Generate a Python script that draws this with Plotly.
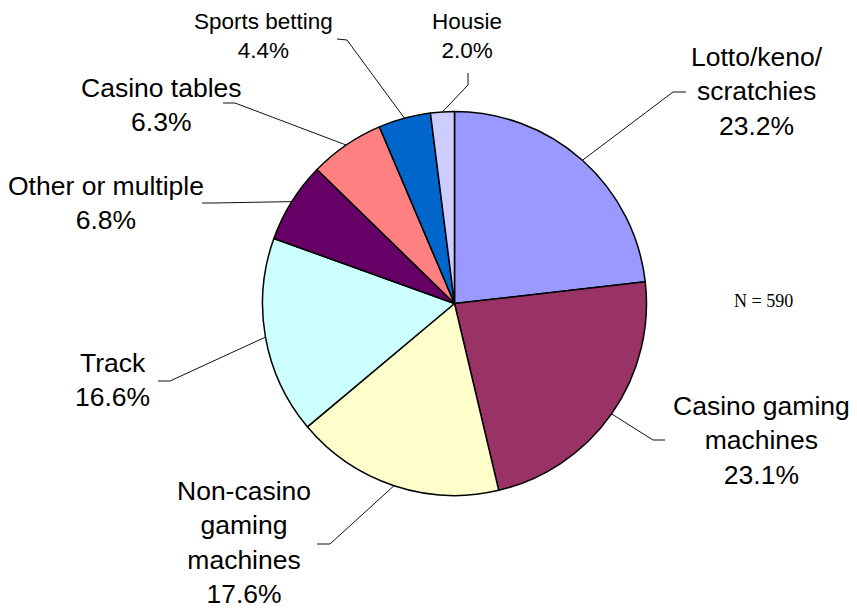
import math
import plotly.graph_objects as go

# Share of participants by main form of gambling
categories = [
    "Lotto/keno/<br>scratchies",
    "Casino gaming<br>machines",
    "Non-casino<br>gaming<br>machines",
    "Track",
    "Other or multiple",
    "Casino tables",
    "Sports betting",
    "Housie",
]
shares = [23.2, 23.1, 17.6, 16.6, 6.8, 6.3, 4.4, 2.0]
sample_size = 590

colors = ["#9999FF", "#993366", "#FFFFCC", "#CCFFFF",
          "#660066", "#FF8080", "#0066CC", "#CCCCFF"]

W, H = 857, 609
CX, CY, R = 454.5, 303.5, 192.0

# Label placement (pixel centre of each text block, font size)
label_pos = [
    (757, 91, 26.5), (761, 440, 26.5), (244, 542, 26.5), (112, 380, 26.5),
    (106, 203, 26.5), (161, 105, 26.5), (263, 36, 22.5), (467, 36, 22.5),
]
# Leader line: elbow point and end point next to the label
leader_pts = [
    ((673, 92), (686, 92)),
    ((653, 440), (665, 440)),
    ((330, 544), (317, 544)),
    ((170, 381), (158, 381)),
    ((214, 203), (202, 203)),
    ((235, 103), (223, 103)),
    ((347, 40), (337, 39)),
    ((468, 85), (468, 73)),
]

fig = go.Figure()

fig.add_trace(go.Pie(
    values=shares,
    labels=[c.replace("<br>", " ") for c in categories],
    sort=False,
    direction="clockwise",
    rotation=0,
    textinfo="none",
    hoverinfo="skip",
    marker=dict(colors=colors, line=dict(color="#000000", width=1.5)),
    domain=dict(x=[(CX - R) / W, (CX + R) / W],
                y=[(H - CY - R) / H, (H - CY + R) / H]),
    showlegend=False,
))

total = sum(shares)
cum = 0.0
shapes = []
annotations = []
for cat, v, (lx, ly, fs), (elbow, end) in zip(categories, shares, label_pos, leader_pts):
    theta = math.radians((cum + v / 2) / total * 360.0)
    cum += v
    ex = CX + R * math.sin(theta)
    ey = CY - R * math.cos(theta)
    shapes.append(dict(
        type="path", xref="x", yref="y",
        path=f"M{ex:.1f},{ey:.1f} L{elbow[0]},{elbow[1]} L{end[0]},{end[1]}",
        line=dict(color="#111111", width=1),
    ))
    annotations.append(dict(
        x=lx, y=ly, xref="x", yref="y",
        text=f"{cat}<br>{v:.1f}%",
        showarrow=False, align="center",
        xanchor="center", yanchor="middle",
        font=dict(family="Liberation Sans, Arial", size=fs, color="#000000"),
    ))

annotations.append(dict(
    x=763, y=301, xref="x", yref="y",
    text=f"N = {sample_size}", showarrow=False,
    xanchor="center", yanchor="middle",
    font=dict(family="Liberation Serif, Times New Roman", size=18, color="#000000"),
))

fig.update_layout(
    width=W, height=H,
    margin=dict(l=0, r=0, t=0, b=0),
    paper_bgcolor="#FFFFFF",
    plot_bgcolor="rgba(0,0,0,0)",
    xaxis=dict(range=[0, W], visible=False, fixedrange=True),
    yaxis=dict(range=[H, 0], visible=False, fixedrange=True),
    shapes=shapes,
    annotations=annotations,
    hovermode=False,
    showlegend=False,
)

fig.write_html("out.html", config={"displayModeBar": False})
